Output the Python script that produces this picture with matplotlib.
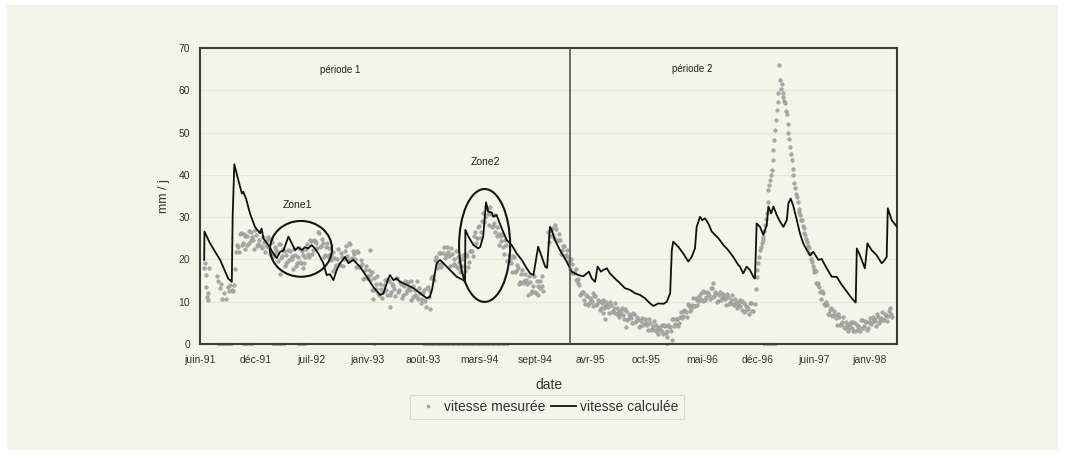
import numpy as np
import pandas as pd
import matplotlib
matplotlib.use("Agg")
import matplotlib.pyplot as plt
import matplotlib.dates as mdates
from matplotlib.patches import Ellipse, Rectangle
from matplotlib.lines import Line2D

plt.rcParams['font.family'] = ['Liberation Sans', 'DejaVu Sans']

# origine des jours (début du suivi)
debut = pd.Timestamp("1991-06-11")
jour_fin = 2498
jour_limite = 1326  # séparation période 1 / période 2

# vitesse calculée : jour depuis le début, vitesse en mm/j
jours_calc = [15, 16, 36, 72, 101, 114, 117, 123, 134, 150,
              155, 165, 179, 197, 215, 221, 227, 245, 263, 275,
              287, 299, 317, 329, 341, 352, 365, 376, 388, 400,
              412, 424, 442, 454, 466, 478, 490, 502, 520, 532,
              549, 573, 598, 621, 645, 657, 675, 681, 693, 705,
              717, 741, 765, 789, 813, 824, 832, 848, 860, 872,
              896, 920, 944, 950, 951, 962, 980, 997, 1004, 1015,
              1025, 1033, 1046, 1051, 1063, 1081, 1099, 1117, 1135, 1153,
              1171, 1183, 1195, 1201, 1212, 1225, 1237, 1244, 1254, 1261,
              1272, 1290, 1314, 1332, 1356, 1374, 1386, 1394, 1404, 1416,
              1425, 1437, 1445, 1458, 1469, 1487, 1505, 1523, 1541, 1559,
              1577, 1595, 1613, 1625, 1643, 1661, 1673, 1685, 1691, 1696,
              1714, 1732, 1750, 1762, 1774, 1780, 1792, 1800, 1810, 1822,
              1834, 1846, 1858, 1876, 1893, 1911, 1929, 1935, 1947, 1959,
              1971, 1983, 1989, 1995, 2007, 2019, 2031, 2037, 2047, 2055,
              2067, 2079, 2091, 2103, 2109, 2117, 2127, 2139, 2150, 2162,
              2175, 2186, 2198, 2216, 2228, 2246, 2264, 2282, 2300, 2318,
              2336, 2350, 2354, 2365, 2383, 2392, 2407, 2425, 2443, 2452,
              2461, 2465, 2479, 2498]
vit_calc = [19.9, 26.6, 23.8, 19.9, 15.5, 14.7, 30.1, 42.5, 39.6, 35.6,
            36.0, 34.4, 30.9, 27.7, 26.2, 27.3, 25.0, 23.4, 21.4, 20.3,
            21.8, 22.1, 25.4, 23.8, 22.2, 22.9, 22.2, 22.9, 22.6, 23.4,
            22.6, 21.4, 19.1, 16.3, 16.5, 15.1, 17.5, 19.1, 20.6, 19.1,
            19.9, 18.3, 15.9, 13.5, 11.6, 11.9, 15.5, 16.3, 15.1, 15.5,
            14.7, 14.0, 13.2, 12.0, 10.8, 11.2, 13.0, 19.1, 19.9, 19.1,
            17.5, 15.9, 15.1, 14.7, 27.0, 25.4, 23.4, 22.6, 22.9, 25.4,
            33.5, 31.3, 31.1, 30.1, 30.5, 27.4, 24.6, 23.4, 21.4, 19.9,
            17.9, 16.7, 16.3, 18.7, 23.0, 20.6, 18.3, 18.0, 27.7, 26.8,
            24.6, 22.2, 19.5, 17.1, 16.3, 16.0, 16.7, 17.1, 15.5, 14.7,
            18.3, 17.1, 17.5, 17.9, 16.7, 15.5, 14.4, 13.2, 12.8, 12.0,
            11.6, 10.8, 9.6, 9.0, 9.6, 9.5, 10.0, 12.0, 22.2, 24.2,
            23.0, 21.4, 19.5, 20.6, 22.6, 27.7, 30.1, 29.3, 29.7, 28.5,
            26.6, 25.8, 25.0, 23.4, 22.2, 20.6, 18.7, 18.3, 16.7, 18.3,
            17.5, 15.9, 15.5, 28.5, 27.7, 25.8, 28.1, 32.5, 30.9, 32.5,
            30.5, 28.9, 27.7, 29.3, 33.3, 34.4, 32.5, 29.3, 26.2, 23.8,
            22.2, 21.0, 21.8, 19.9, 20.1, 17.9, 15.9, 15.9, 14.0, 12.4,
            10.8, 9.8, 22.6, 21.0, 17.9, 23.8, 22.2, 21.0, 19.1, 19.7,
            20.6, 32.1, 29.3, 27.7]

# vitesse mesurée : relevés isolés (début du suivi et points écartés)
jours_isoles = [16, 18, 20, 22, 25, 27, 30, 33, 61, 65, 70, 74, 79, 86, 92,
                101, 105, 109, 113, 287, 370, 609, 621, 681, 824,
                1409, 1444, 1451, 1527, 1675, 1691, 1838]
vit_isoles = [18.0, 19.1, 16.3, 13.5, 11.2, 10.4, 12.0, 17.9, 16.0, 15.0, 13.2, 14.2, 10.7, 12.1, 10.6,
              13.5, 12.5, 14.0, 12.8, 16.5, 18.0, 22.2, 10.6, 8.7, 8.2,
              12.0, 7.3, 6.0, 4.1, 1.7, 1.0, 14.4]

# période 1, relevés tous les 7 jours à partir du jour 118
mes_p1 = [12.5, 17.7, 23.3, 21.7, 26.3, 23.9, 25.6, 23.4, 26.7, 24.6,
          25.4, 22.4, 25.7, 23.6, 26.8, 22.8, 24.1, 23.1, 25.4, 21.3,
          24.2, 21.2, 22.3, 19.7, 23.6, 20.7, 21.9, 19.1, 22.3, 20.2,
          20.9, 17.8, 21.1, 19.1, 22.8, 19.2, 21.1, 20.6, 23.6, 20.5,
          24.4, 22.3, 24.4, 22.6, 26.3, 23.1, 24.0, 21.1, 24.0, 21.1,
          21.0, 17.2, 20.4, 18.7, 22.4, 18.7, 20.5, 20.1, 23.2, 19.9,
          23.7, 20.3, 21.2, 18.2, 21.7, 18.3, 18.9, 15.7, 18.5, 16.0,
          16.2, 12.7, 15.6, 13.1, 16.0, 11.5, 13.0, 12.3, 15.1, 11.5,
          14.9, 12.3, 13.7, 11.4, 15.5, 12.7, 14.1, 11.5, 14.8, 12.7,
          13.5, 10.5, 13.7, 11.5, 14.8, 10.7, 12.0, 10.7, 12.8, 8.7,
          13.4, 12.6, 15.9, 15.2, 20.5, 19.0, 21.5, 19.2, 22.9, 21.1,
          21.8, 18.4, 21.4, 19.0, 22.1, 18.0, 19.3, 18.4, 21.0, 17.3,
          20.9, 19.4, 22.0, 20.8, 26.4, 25.0, 27.8, 26.5, 31.0, 30.1,
          31.9, 28.2, 30.7, 27.8, 30.4, 25.6, 26.1, 24.4, 25.9, 21.2,
          23.4, 19.6, 20.1, 17.1, 20.6, 17.2, 17.9, 14.7, 17.4, 14.8,
          15.1, 11.7, 14.6, 12.6, 16.0, 12.1, 13.7, 13.2, 16.1, 12.6]
# période 1, second capteur, tous les 7 jours à partir du jour 121
mes_p1b = [13.9, 21.8, 23.0, 26.0, 23.3, 26.0, 22.5, 25.5, 24.0, 26.5,
           24.6, 27.0, 23.1, 24.7, 23.2, 25.3, 21.8, 24.6, 22.7, 24.9,
           20.8, 23.0, 21.5, 23.7, 20.3, 22.5, 18.5, 21.1, 19.6, 22.1,
           20.0, 22.4, 18.5, 20.5, 19.4, 22.0, 19.1, 22.4, 21.4, 24.6,
           21.4, 24.6, 24.0, 26.5, 22.9, 24.8, 20.5, 23.0, 20.9, 22.6,
           19.8, 21.7, 18.0, 20.1, 18.9, 21.5, 18.5, 22.0, 20.9, 24.0,
           20.1, 22.0, 20.2, 22.0, 18.2, 19.8, 15.3, 17.5, 15.6, 17.6,
           15.1, 17.1, 12.8, 14.1, 12.1, 14.1, 10.9, 14.0, 12.7, 15.4,
           11.7, 14.3, 13.0, 15.5, 12.3, 14.6, 10.8, 13.6, 12.1, 14.6,
           12.7, 15.0, 11.0, 12.7, 11.1, 13.2, 9.6, 12.1, 10.1, 13.2,
           11.1, 15.5, 16.0, 19.9, 17.9, 21.5, 18.3, 21.5, 20.3, 23.0,
           20.8, 22.8, 18.6, 20.1, 18.4, 20.5, 17.1, 20.0, 18.5, 21.3,
           18.2, 22.0, 21.9, 25.6, 23.9, 27.6, 25.1, 29.2, 28.9, 32.5,
           30.7, 32.4, 27.7, 28.6, 26.4, 27.7, 23.5, 25.5, 22.9, 24.5,
           19.6, 21.1, 19.1, 20.9, 17.1, 18.8, 14.3, 16.5, 14.4, 16.5,
           14.1, 16.1, 12.0, 13.8, 12.4, 14.8, 11.7, 15.0, 13.7]

# fin période 1 et période 2, tous les 7 jours à partir du jour 1248
mes_p2 = [26.4, 25.5, 27.4, 25.0, 27.1, 24.7, 24.7, 22.2, 23.2, 21.0,
          20.5, 17.8, 19.0, 16.8, 17.7, 14.5, 13.9, 11.8, 12.3, 9.4,
          11.3, 9.6, 10.4, 8.9, 11.3, 9.5, 10.1, 8.4, 10.3, 8.9,
          9.3, 7.3, 9.2, 7.9, 9.7, 7.2, 7.9, 7.1, 8.4, 6.0,
          7.7, 5.9, 6.6, 4.9, 7.2, 5.4, 6.0, 4.3, 6.2, 4.8,
          5.1, 3.2, 5.0, 3.6, 5.4, 3.0, 3.8, 3.2, 4.6, 2.3,
          4.3, 3.0, 4.2, 3.1, 5.9, 4.7, 5.9, 4.9, 7.5, 6.7,
          7.7, 6.4, 9.0, 8.3, 10.9, 9.1, 10.4, 10.2, 12.0, 10.1,
          12.4, 11.0, 12.0, 10.7, 13.2, 11.4, 12.0, 10.2, 12.2, 10.8,
          11.1, 9.2, 11.1, 9.8, 11.6, 9.2, 9.9, 9.2, 10.5, 8.0,
          9.7, 7.9, 8.7, 7.2, 9.6, 7.9]
# second capteur, tous les 7 jours à partir du jour 1251
mes_p2b = [24.1, 27.0, 25.8, 28.1, 24.4, 26.0, 21.3, 23.2, 20.7, 22.3,
           19.6, 20.2, 16.9, 17.0, 15.1, 15.3, 11.7, 12.2, 10.5, 11.7,
           9.3, 10.8, 10.0, 11.4, 9.3, 10.5, 8.1, 9.6, 8.6, 10.0,
           8.7, 10.0, 7.6, 8.5, 7.4, 8.6, 6.4, 7.9, 6.8, 8.2,
           5.6, 7.0, 6.1, 7.3, 5.2, 6.4, 4.0, 5.5, 4.5, 5.8,
           4.6, 5.9, 3.3, 4.2, 3.2, 4.5, 2.4, 4.1, 3.1, 4.6,
           2.5, 4.4, 4.0, 5.8, 4.2, 6.0, 4.3, 6.5, 6.1, 8.1,
           7.5, 9.5, 7.7, 9.3, 9.0, 10.8, 9.2, 11.3, 10.7, 12.6,
           10.5, 12.3, 11.7, 13.2, 11.2, 12.4, 10.0, 11.5, 10.5, 11.8,
           10.6, 11.9, 9.5, 10.4, 9.4, 10.6, 8.4, 10.0, 8.9, 10.2,
           7.6, 9.1, 8.3, 9.7, 7.7]

# pic de l'hiver 96-97, tous les 3 jours à partir du jour 1989
mes_pic = [9.5, 13.0, 15.9, 17.5, 19.1, 20.6, 22.2, 23.0, 23.8, 24.6,
           25.4, 26.8, 28.1, 29.5, 30.9, 33.6, 36.4, 37.6, 38.8, 40.0,
           41.1, 43.5, 45.9, 48.3, 50.6, 53.0, 55.3, 57.3, 59.3, 66.0,
           62.5, 60.3, 61.6, 58.5, 59.3, 57.5, 56.9, 55.0, 54.5, 52.0,
           50.0, 48.5, 46.7, 45.0, 43.5, 41.5, 40.0, 38.0, 37.0, 35.5,
           34.8, 33.5, 32.0, 31.2, 30.5, 29.4, 29.3, 28.0, 27.5, 26.2,
           25.8, 24.8, 24.2, 23.2, 22.6, 21.5, 21.2, 20.0, 19.5, 18.4,
           17.8, 17.0]

# décrue 1997-98, tous les 7 jours à partir du jour 2206, puis du jour 2209
mes_fin = [17.2, 14.1, 13.4, 10.7, 12.0, 9.2, 9.3, 7.0, 8.5, 6.9,
           6.9, 4.6, 6.3, 4.8, 6.4, 3.7, 4.5, 3.9, 5.3, 3.0,
           5.0, 3.4, 4.3, 3.0, 5.6, 4.2, 5.2, 3.9, 6.2, 5.2,
           5.8, 4.2, 6.4, 5.4, 7.6, 5.6, 6.7, 6.6, 8.4, 6.5]
mes_finb = [14.5, 14.5, 12.4, 12.6, 9.5, 10.0, 7.0, 8.0, 6.7, 7.8,
            6.2, 7.2, 4.6, 5.3, 4.0, 5.2, 3.1, 4.8, 3.8, 5.3,
            3.0, 4.6, 4.0, 5.6, 3.8, 5.4, 3.4, 5.3, 4.7, 6.4,
            5.4, 7.1, 4.9, 6.2, 5.6, 7.2, 5.5, 7.7, 7.1]

# jours où le capteur a renvoyé 0
jours_nuls = [63, 70, 77, 84, 91, 98, 105, 111, 154, 162, 170, 178, 186,
              260, 268, 276, 284, 292, 300, 351, 359, 367, 375, 622,
              803, 812, 821, 830, 839, 848, 857, 866, 875, 884, 893, 902,
              911, 920, 929, 938, 947, 956, 965, 974, 983, 992, 1001, 1010,
              1019, 1028, 1037, 1046, 1055, 1064, 1073, 1082, 1091, 1100,
              1675, 2021, 2031, 2041, 2051, 2061]

mois_fr = ["janv", "févr", "mars", "avr", "mai", "juin",
           "juil", "août", "sept", "oct", "nov", "déc"]


def en_dates(jours):
    return debut + pd.to_timedelta(np.asarray(jours, dtype=float), unit="D")


def serie(j0, pas, valeurs):
    return j0 + pas * np.arange(len(valeurs))


jours_mes = np.concatenate([jours_isoles,
                            serie(118, 7, mes_p1), serie(121, 7, mes_p1b),
                            serie(1248, 7, mes_p2), serie(1251, 7, mes_p2b),
                            serie(1989, 3, mes_pic),
                            serie(2206, 7, mes_fin), serie(2209, 7, mes_finb)])
vit_mes = np.concatenate([vit_isoles, mes_p1, mes_p1b, mes_p2, mes_p2b,
                          mes_pic, mes_fin, mes_finb])

fond = '#f2f5e8'
fig = plt.figure(figsize=(10.65, 4.55), dpi=100, facecolor='white')
fig.patches.append(Rectangle((7 / 1065, 5 / 455), 1051 / 1065, 445 / 455,
                             transform=fig.transFigure, facecolor=fond,
                             edgecolor='none', zorder=-10))
ax = fig.add_axes([200 / 1065, 1 - 344 / 455, 697 / 1065, 296 / 455])
ax.set_facecolor(fond)

# grille horizontale très discrète
for v in range(10, 70, 10):
    ax.axhline(v, color='#e3e7d6', lw=0.8, zorder=0)

ax.plot(en_dates(jours_nuls), np.zeros(len(jours_nuls)), ls='none', marker='o',
        ms=2.0, mfc='#b0b0b0', mec='#9a9a9a', mew=0.3, zorder=1, clip_on=False)
ax.plot(en_dates(jours_mes), vit_mes, ls='none', marker='o', ms=2.6,
        mfc='#a8a8a8', mec='#8e8e8e', mew=0.3, zorder=2)
ax.plot(en_dates(jours_calc), vit_calc, color='#111111', lw=1.3, zorder=3)

ax.axvline(en_dates([jour_limite])[0], color='#555555', lw=1.2, zorder=4)

# zones entourées
for (jc, vc, larg, haut) in [(362, 22.5, 222, 13.2), (1020, 23.3, 183, 26.7)]:
    xc = mdates.date2num(en_dates([jc])[0])
    ax.add_patch(Ellipse((xc, vc), larg, haut, fill=False, ec='#151515', lw=1.5, zorder=5))

ax.text(en_dates([502])[0], 64.8, "période 1", fontsize=7, ha='center', va='center', color='#222')
ax.text(en_dates([1763])[0], 65.0, "période 2", fontsize=7, ha='center', va='center', color='#222')
ax.text(en_dates([348])[0], 32.9, "Zone1", fontsize=7.5, ha='center', va='center', color='#222')
ax.text(en_dates([1021])[0], 43.0, "Zone2", fontsize=7.5, ha='center', va='center', color='#222')

ax.set_xlim(debut, en_dates([jour_fin])[0])
ax.set_ylim(0, 70)
ax.set_yticks(range(0, 80, 10))
graduations = en_dates(np.arange(0, 2401, 200))
ax.set_xticks(graduations)
ax.set_xticklabels([f"{mois_fr[d.month - 1]}-{d.year % 100:02d}" for d in graduations])
ax.tick_params(length=0, labelsize=7.5, colors='#333333')
ax.tick_params(axis='x', pad=8)
ax.tick_params(axis='y', pad=7)

for s in ax.spines.values():
    s.set_color('#3c3c3c')
    s.set_linewidth(1.5)

ax.set_xlabel("date", fontsize=10, color='#333333', labelpad=9)
ax.set_ylabel("mm / j", fontsize=9, color='#333333', labelpad=6)

poignees = [Line2D([], [], ls='none', marker='o', ms=2.3, mfc='#a8a8a8', mec='#8e8e8e', mew=0.3),
            Line2D([], [], color='#111111', lw=1.3)]
leg = fig.legend(poignees, ["vitesse mesurée", "vitesse calculée"], loc='center',
                 bbox_to_anchor=(547 / 1065, 1 - 407 / 455), ncol=2, fontsize=10,
                 frameon=True, fancybox=False, handlelength=1.8, handletextpad=0.3,
                 columnspacing=0.4, borderpad=0.35)
leg.get_frame().set_edgecolor('#d0d0d0')
leg.get_frame().set_facecolor('#f5f7ee')
leg.get_frame().set_linewidth(0.8)
for t in leg.get_texts():
    t.set_color('#333333')

fig.savefig("out.png", dpi=100, facecolor='white')
